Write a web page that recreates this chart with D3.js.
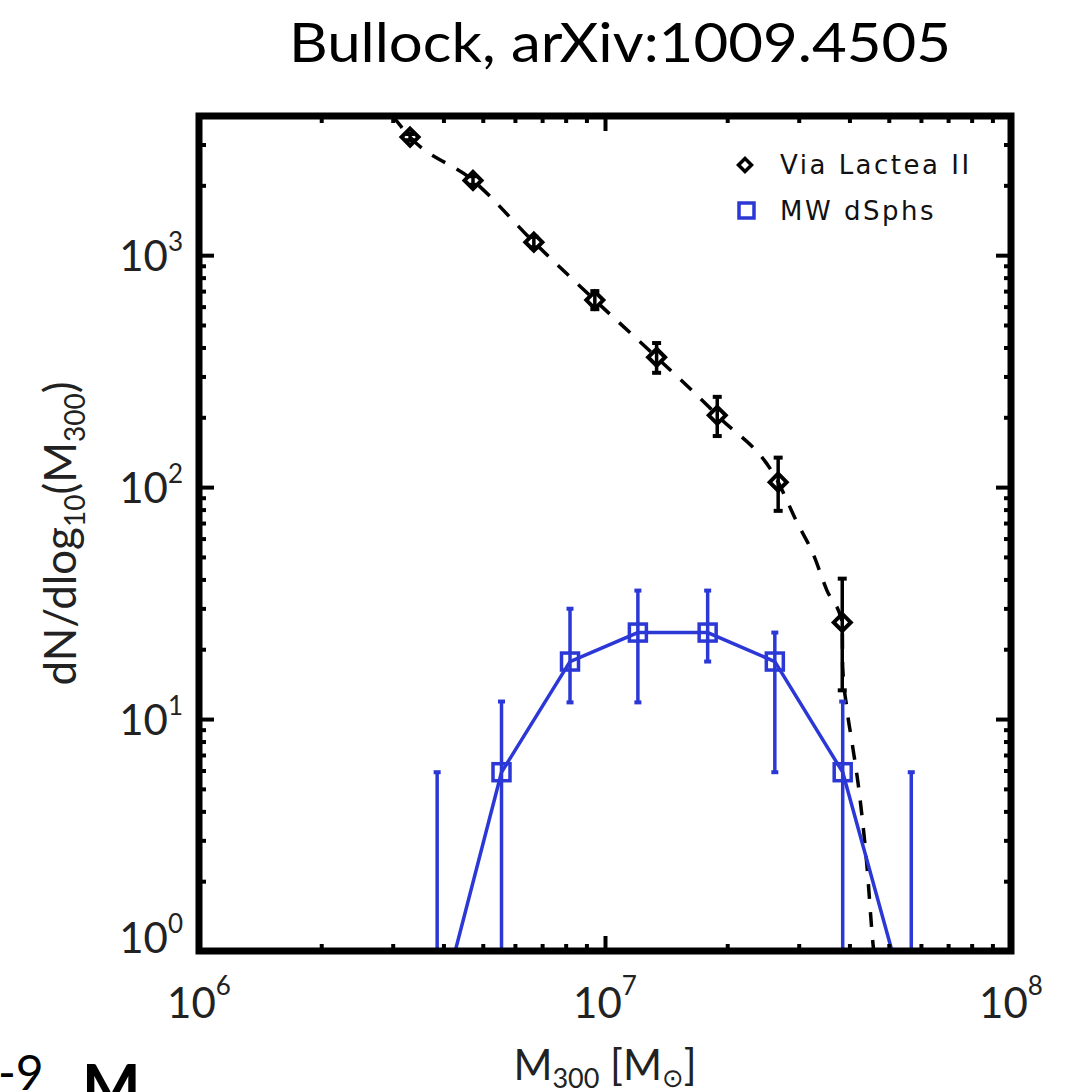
<!DOCTYPE html>
<html>
<head>
<meta charset="utf-8">
<script src="https://cdn.jsdelivr.net/npm/d3@7"></script>
<style>
  body { margin: 0; background: #fff; }
  svg { display: block; }
</style>
</head>
<body>
<div id="chart"></div>
<script>
// Via Lactea II subhalo counts (black diamonds)
var vlMass = [3.31e6, 4.73e6, 6.68e6, 9.44e6, 1.34e7, 1.89e7, 2.67e7, 3.84e7];
var vlCount = [3230, 2100, 1138, 640, 363, 204, 105, 26.1];
var vlHigh = [3330, 2190, 1200, 700, 418, 245, 134, 40.3];
var vlLow = [3130, 2010, 1080, 585, 311, 166, 79, 13.3];

// dashed fit through Via Lactea II
var fitMass = [3.0e6, 3.31e6, 4.73e6, 6.68e6, 9.44e6, 1.34e7, 1.89e7, 2.67e7, 2.97e7, 3.25e7, 3.52e7, 3.84e7,
               3.85e7, 3.94e7, 4.06e7, 4.20e7, 4.42e7, 4.57e7, 4.62e7];
var fitCount = [3980, 3230, 2100, 1138, 640, 363, 204, 105, 70.6, 51.9, 35.9, 26.1,
                16.7, 11.2, 7.9, 5.3, 2.3, 1.08, 0.9];

// Milky Way dwarf spheroidals (blue squares), empty bins drawn without a symbol
var dsphMass = [3.86e6, 5.56e6, 8.20e6, 1.205e7, 1.79e7, 2.62e7, 3.85e7, 5.68e7];
var dsphCount = [0.5, 5.9, 17.7, 23.6, 23.6, 17.7, 5.9, 0.5];
var dsphHigh = [5.9, 11.9, 29.9, 35.8, 35.8, 23.6, 11.9, 5.9];
var dsphLow = [0, 0, 11.8, 11.8, 17.7, 5.9, 0, 0];
var dsphEmpty = [true, false, false, false, false, false, false, true];

var xMajor = [1e6, 1e7, 1e8];
var xLabels = ["6", "7", "8"];
var yMajor = [1, 10, 100, 1000];
var yLabels = ["0", "1", "2", "3"];

var legendNames = ["Via Lactea II", "MW dSphs"];

var blue = "#2b38d6";

var svg = d3.select("#chart").append("svg")
    .attr("width", 1070).attr("height", 1092)
    .style("font-family", "Lato, 'Open Sans', sans-serif");

var pLeft = 199, pRight = 1011, pTop = 116, pBottom = 951;

var x = d3.scaleLog().domain([1e6, 1e8]).range([pLeft, pRight]);
var y = d3.scaleLog().domain([1, 3981]).range([pBottom, pTop]);

function minors(lo, hi) {
  var out = [];
  for (var p = lo; p < hi; p *= 10)
    for (var k = 2; k <= 9; k++) if (p * k <= hi) out.push(p * k);
  return out;
}
var xMinor = minors(1e6, 1e8);
var yMinor = minors(1, 3981);

// title
svg.append("text")
  .attr("x", 620).attr("y", 62)
  .attr("text-anchor", "middle")
  .attr("textLength", 662)
  .attr("lengthAdjust", "spacingAndGlyphs")
  .style("font-size", "55px")
  .text("Bullock, arXiv:1009.4505");

// clip for data
svg.append("clipPath").attr("id", "plotclip")
  .append("rect")
  .attr("x", pLeft).attr("y", pTop)
  .attr("width", pRight - pLeft).attr("height", pBottom - pTop);

var plot = svg.append("g").attr("clip-path", "url(#plotclip)");

// dashed fit line
var fitLine = d3.line()
  .x(function(d) { return x(d[0]); })
  .y(function(d) { return y(d[1]); })
  .curve(d3.curveMonotoneX);
plot.append("path")
  .datum(d3.zip(fitMass, fitCount))
  .attr("d", fitLine)
  .attr("fill", "none")
  .attr("stroke", "#000")
  .attr("stroke-width", 3.5)
  .attr("stroke-dasharray", "15,13");

// Via Lactea error bars
var vl = vlMass.map(function(m, i) {
  return {m: m, n: vlCount[i], hi: vlHigh[i], lo: vlLow[i]};
});
var vlErr = plot.selectAll(".vlerr").data(vl).enter().append("g")
  .attr("stroke", "#000").attr("stroke-width", 3.5);
vlErr.append("line")
  .attr("x1", function(d) { return x(d.m); }).attr("x2", function(d) { return x(d.m); })
  .attr("y1", function(d) { return y(d.hi); }).attr("y2", function(d) { return y(d.lo); });
vlErr.append("line")
  .attr("x1", function(d) { return x(d.m) - 4.5; }).attr("x2", function(d) { return x(d.m) + 4.5; })
  .attr("y1", function(d) { return y(d.hi); }).attr("y2", function(d) { return y(d.hi); })
  .attr("stroke-width", 4);
vlErr.append("line")
  .attr("x1", function(d) { return x(d.m) - 4.5; }).attr("x2", function(d) { return x(d.m) + 4.5; })
  .attr("y1", function(d) { return y(d.lo); }).attr("y2", function(d) { return y(d.lo); })
  .attr("stroke-width", 4);

var diamond = "M0,-8.5L8.5,0L0,8.5L-8.5,0Z";
plot.selectAll(".vlpt").data(vl).enter().append("path")
  .attr("d", diamond)
  .attr("transform", function(d) { return "translate(" + x(d.m) + "," + y(d.n) + ")"; })
  .attr("fill", "none")
  .attr("stroke", "#000")
  .attr("stroke-width", 4);

// dSph line and error bars
var ds = dsphMass.map(function(m, i) {
  return {m: m, n: dsphCount[i], hi: dsphHigh[i], lo: Math.max(dsphLow[i], 0.1), empty: dsphEmpty[i]};
});
var dsLine = d3.line()
  .x(function(d) { return x(d.m); })
  .y(function(d) { return y(d.n); });
plot.append("path")
  .datum(ds)
  .attr("d", dsLine)
  .attr("fill", "none")
  .attr("stroke", blue)
  .attr("stroke-width", 3.5);

var dsErr = plot.selectAll(".dserr").data(ds).enter().append("g")
  .attr("stroke", blue).attr("stroke-width", 3.5);
dsErr.append("line")
  .attr("x1", function(d) { return x(d.m); }).attr("x2", function(d) { return x(d.m); })
  .attr("y1", function(d) { return y(d.hi); }).attr("y2", function(d) { return y(d.lo); });
dsErr.append("line")
  .attr("x1", function(d) { return x(d.m) - 3.5; }).attr("x2", function(d) { return x(d.m) + 3.5; })
  .attr("y1", function(d) { return y(d.hi); }).attr("y2", function(d) { return y(d.hi); })
  .attr("stroke-width", 4);
dsErr.append("line")
  .attr("x1", function(d) { return x(d.m) - 3.5; }).attr("x2", function(d) { return x(d.m) + 3.5; })
  .attr("y1", function(d) { return y(d.lo); }).attr("y2", function(d) { return y(d.lo); })
  .attr("stroke-width", 4);

plot.selectAll(".dspt").data(ds.filter(function(d) { return !d.empty; })).enter().append("rect")
  .attr("x", function(d) { return x(d.m) - 8.5; })
  .attr("y", function(d) { return y(d.n) - 8.5; })
  .attr("width", 17).attr("height", 17)
  .attr("fill", "none")
  .attr("stroke", blue)
  .attr("stroke-width", 3.5);

// axes: ticks on all four sides, pointing inward
function tickAxis(axisFn, scale, values, size, tr) {
  var g = svg.append("g")
    .attr("transform", tr)
    .call(axisFn(scale).tickValues(values).tickSize(size).tickFormat(""));
  g.select(".domain").remove();
  g.selectAll(".tick line").attr("stroke", "#000").attr("stroke-width", 4);
  return g;
}
tickAxis(d3.axisBottom, x, xMajor, -15, "translate(0," + pBottom + ")");
tickAxis(d3.axisBottom, x, xMinor, -7, "translate(0," + pBottom + ")");
tickAxis(d3.axisTop, x, xMajor, -15, "translate(0," + pTop + ")");
tickAxis(d3.axisTop, x, xMinor, -7, "translate(0," + pTop + ")");
tickAxis(d3.axisLeft, y, yMajor, -15, "translate(" + pLeft + ",0)");
tickAxis(d3.axisLeft, y, yMinor, -7, "translate(" + pLeft + ",0)");
tickAxis(d3.axisRight, y, yMajor, -15, "translate(" + pRight + ",0)");
tickAxis(d3.axisRight, y, yMinor, -7, "translate(" + pRight + ",0)");

// frame
svg.append("rect")
  .attr("x", pLeft).attr("y", pTop)
  .attr("width", pRight - pLeft).attr("height", pBottom - pTop)
  .attr("fill", "none")
  .attr("stroke", "#000")
  .attr("stroke-width", 7);

// tick labels
var xl = svg.selectAll(".xlab").data(xMajor).enter().append("text")
  .attr("x", function(d) { return x(d); })
  .attr("y", pBottom + 67)
  .attr("text-anchor", "middle")
  .attr("fill", "#222")
  .style("font-size", "42px");
xl.append("tspan").text("10");
xl.append("tspan").attr("dy", -23).style("font-size", "26px")
  .text(function(d, i) { return xLabels[i]; });

var yl = svg.selectAll(".ylab").data(yMajor).enter().append("text")
  .attr("x", pLeft - 16)
  .attr("y", function(d) { return Math.min(y(d) + 16, pBottom + 2); })
  .attr("text-anchor", "end")
  .attr("fill", "#222")
  .style("font-size", "42px");
yl.append("tspan").text("10");
yl.append("tspan").attr("dy", -20).style("font-size", "26px")
  .text(function(d, i) { return yLabels[i]; });

// axis titles
var xt = svg.append("text")
  .attr("x", (pLeft + pRight) / 2).attr("y", 1080)
  .attr("text-anchor", "middle")
  .attr("fill", "#222")
  .style("font-size", "42px");
xt.append("tspan").text("M");
xt.append("tspan").attr("dy", 8).style("font-size", "27px").text("300");
xt.append("tspan").attr("dy", -8).text(" [M");
xt.append("tspan").attr("dy", 7).style("font-size", "26px")
  .style("font-family", "'DejaVu Sans'").text("\u2299");
xt.append("tspan").attr("dy", -7).text("]");

var yt = svg.append("text")
  .attr("transform", "translate(76," + (pTop + pBottom) / 2 + ") rotate(-90)")
  .attr("text-anchor", "middle")
  .attr("fill", "#222")
  .style("font-size", "44px");
yt.append("tspan").text("dN/dlog");
yt.append("tspan").attr("dy", 9).style("font-size", "28px").text("10");
yt.append("tspan").attr("dy", -9).text("(M");
yt.append("tspan").attr("dy", 9).style("font-size", "28px").text("300");
yt.append("tspan").attr("dy", -9).text(")");

// legend
var leg = svg.append("g").style("font-family", "'DejaVu Sans', sans-serif");
leg.append("path")
  .attr("d", "M0,-6.5L6.5,0L0,6.5L-6.5,0Z")
  .attr("transform", "translate(745,165)")
  .attr("fill", "none").attr("stroke", "#000").attr("stroke-width", 3.5);
leg.append("rect")
  .attr("x", 739).attr("y", 203).attr("width", 15).attr("height", 15)
  .attr("fill", "none").attr("stroke", blue).attr("stroke-width", 3.5);
leg.selectAll(".lt").data(legendNames).enter().append("text")
  .attr("x", 780)
  .attr("y", function(d, i) { return 174 + i * 46; })
  .style("font-size", "26px")
  .style("letter-spacing", "2.5px")
  .attr("fill", "#111")
  .text(function(d) { return d; });

// slide text cut off at the bottom edge
var foot = svg.append("g").attr("fill", "#000");
foot.append("text").attr("x", -2).attr("y", 1090)
  .style("font-size", "48px").text("-9");
foot.append("text").attr("x", 82).attr("y", 1108)
  .style("font-size", "62px").style("font-weight", "bold").text("M");
foot.append("text").attr("x", 166).attr("y", 1122)
  .style("font-size", "40px").style("font-family", "'DejaVu Sans'").text("\u2299");
</script>
</body>
</html>
